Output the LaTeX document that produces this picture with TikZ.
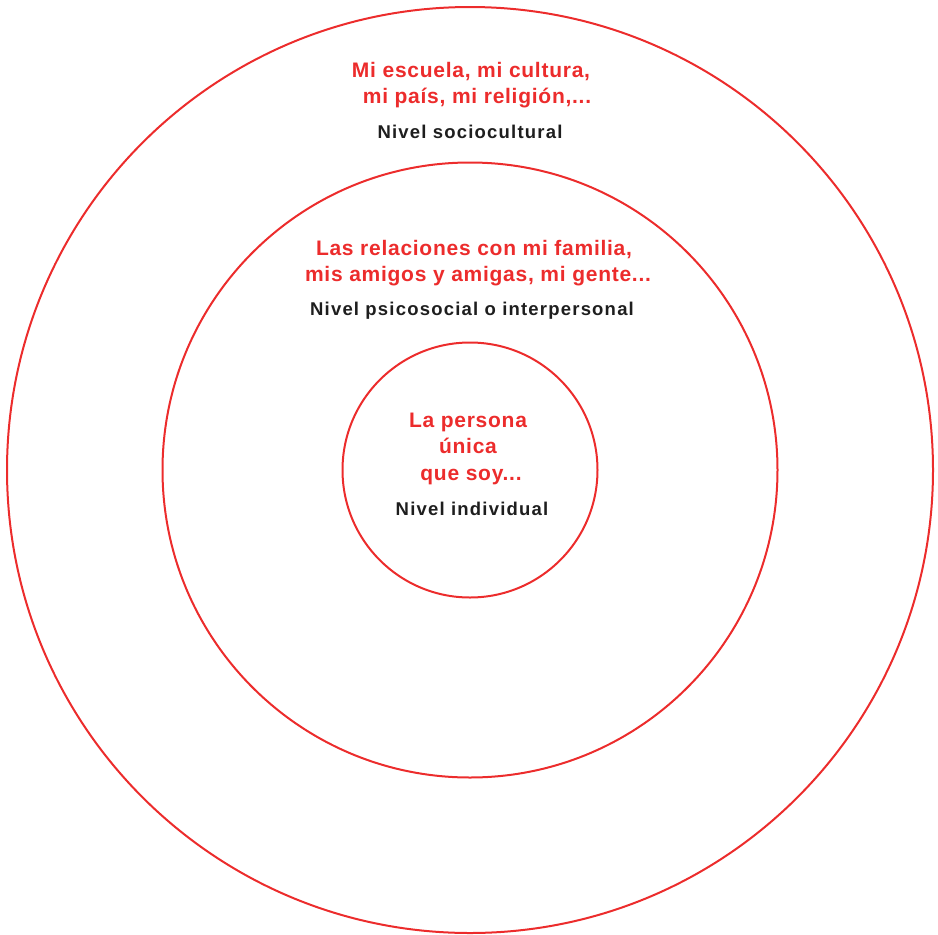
\documentclass[tikz,border=0pt]{standalone}
\usepackage{fontspec}
\setmainfont{Liberation Sans}
\newfontfamily\frasefont[LetterSpace=3.5]{Liberation Sans}
\newfontfamily\nivelfont[LetterSpace=6.5]{Liberation Sans}
\definecolor{rojo}{RGB}{236,44,44}
\definecolor{negro}{RGB}{30,30,30}
\tikzset{
  ring/.style = {draw=rojo, line width=2pt},
  frase/.style = {text=rojo, font=\frasefont\bfseries\fontsize{21}{26}\selectfont, inner sep=0pt},
  nivel/.style = {text=negro, font=\nivelfont\bfseries\fontsize{18.5}{22}\selectfont, inner sep=0pt}
}

\begin{document}
\begin{tikzpicture}[x=1pt, y=-1pt]
\useasboundingbox (0,0) rectangle (938,935);
\coordinate (c) at (470,470);
\draw[ring] (c) circle (463);
\draw[ring] (c) circle (307.5);
\draw[ring] (c) circle (127.5);

% sociocultural
\node[frase, anchor=base] (s1) at (471,77) {Mi escuela, mi cultura,};
\node[frase, anchor=base] (s2) at (477,103) {mi país, mi religión,...};
\node[nivel, anchor=base] (s3) at (470,138) {Nivel sociocultural};

% psicosocial
\node[frase, anchor=base] (p1) at (474,255) {Las relaciones con mi familia,};
\node[frase, anchor=base] (p2) at (478,281) {mis amigos y amigas, mi gente...};
\node[nivel, anchor=base] (p3) at (472,315) {Nivel psicosocial o interpersonal};

% individual
\node[frase, anchor=base] (i1) at (468,427) {La persona};
\node[frase, anchor=base] (i2) at (468,453) {única};
\node[frase, anchor=base] (i3) at (471,480) {que soy...};
\node[nivel, anchor=base] (i4) at (472,515) {Nivel individual};
\end{tikzpicture}
\end{document}
